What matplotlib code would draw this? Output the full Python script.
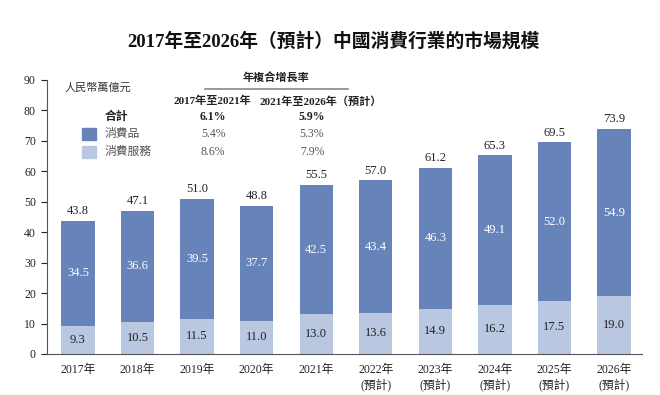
import matplotlib
matplotlib.use("Agg")
import matplotlib.pyplot as plt
from matplotlib.lines import Line2D
from matplotlib.patches import Rectangle

years = ["2017年", "2018年", "2019年", "2020年", "2021年",
         "2022年\n(預計)", "2023年\n(預計)", "2024年\n(預計)", "2025年\n(預計)", "2026年\n(預計)"]
goods = [34.5, 36.6, 39.5, 37.7, 42.5, 43.4, 46.3, 49.1, 52.0, 54.9]
services = [9.3, 10.5, 11.5, 11.0, 13.0, 13.6, 14.9, 16.2, 17.5, 19.0]
totals = [43.8, 47.1, 51.0, 48.8, 55.5, 57.0, 61.2, 65.3, 69.5, 73.9]
cagr_headers = ["2017年至2021年", "2021年至2026年（預計）"]
cagr_rows = ["合計", "消費品", "消費服務"]
cagr_a = ["6.1%", "5.4%", "8.6%"]
cagr_b = ["5.9%", "5.3%", "7.9%"]

DARK = "#6784ba"
LIGHT = "#b9c7e1"
FAM = ["Liberation Serif", "Noto Sans CJK TC", "DejaVu Sans"]
plt.rcParams["font.family"] = FAM

W, H = 660, 395
fig = plt.figure(figsize=(W / 100, H / 100), dpi=100)

def P(x, y):
    return (x / W, 1 - y / H)

ax = fig.add_axes([47 / W, 1 - 354 / H, (642 - 47) / W, (354 - 80) / H])
x = list(range(len(years)))
ax.bar(x, services, width=0.56, color=LIGHT, zorder=2)
ax.bar(x, goods, width=0.56, bottom=services, color=DARK, zorder=2)
for i in x:
    ax.text(i, services[i] / 2, f"{services[i]:.1f}", ha="center", va="center",
            fontsize=9, color="#222222")
    ax.text(i, services[i] + goods[i] / 2, f"{goods[i]:.1f}", ha="center", va="center",
            fontsize=9, color="white")
    ax.text(i, totals[i] + 1.2, f"{totals[i]:.1f}", ha="center", va="bottom",
            fontsize=9, color="#222222")

ax.set_xlim(-0.52, 9.47)
ax.set_ylim(0, 90)
ax.set_yticks(range(0, 91, 10))
ax.set_xticks(x)
ax.set_xticklabels(years, fontsize=8.5, linespacing=1.25)
ax.tick_params(axis="x", length=0, pad=7, colors="#222222")
ax.tick_params(axis="y", length=4, width=0.8, labelsize=8.5, colors="#222222", pad=4)
for s in ["top", "right"]:
    ax.spines[s].set_visible(False)
ax.spines["left"].set_color("#555555")
ax.spines["bottom"].set_color("#555555")

# Title
fig.text(*P(333, 41), "2017年至2026年（預計）中國消費行業的市場規模",
         ha="center", va="center", fontsize=13.5, fontweight="bold", color="#111111")

# Unit
fig.text(*P(65, 88), "人民幣萬億元", ha="left", va="center", fontsize=8,
         style="italic", color="#333333")

# CAGR table
fig.text(*P(276, 78), "年複合增長率", ha="center", va="center", fontsize=8,
         fontweight="bold", color="#222222")
fig.add_artist(Line2D([205 / W, 348 / W], [1 - 89 / H, 1 - 89 / H],
                      color="#888888", lw=1.2))
fig.text(*P(212, 101), cagr_headers[0], ha="center", va="center", fontsize=8,
         fontweight="bold", color="#222222")
fig.text(*P(321, 101), cagr_headers[1], ha="center", va="center", fontsize=8,
         fontweight="bold", color="#222222")

row_y = [117, 134, 152]
for j, lab in enumerate(cagr_rows):
    bold = "bold" if j == 0 else "normal"
    col = "#222222" if j == 0 else "#555555"
    fig.text(*P(105, row_y[j]), lab, ha="left", va="center", fontsize=8.5,
             fontweight=bold, color=col)
    fig.text(*P(213, row_y[j]), cagr_a[j], ha="center", va="center", fontsize=8.5,
             fontweight=bold, color=col)
    fig.text(*P(312, row_y[j]), cagr_b[j], ha="center", va="center", fontsize=8.5,
             fontweight=bold, color=col)

for j, c in [(1, DARK), (2, LIGHT)]:
    fig.add_artist(Rectangle((82 / W, 1 - (row_y[j] + 6) / H), 14 / W, 12 / H,
                             color=c, transform=fig.transFigure))

fig.savefig("out.png", dpi=100)
